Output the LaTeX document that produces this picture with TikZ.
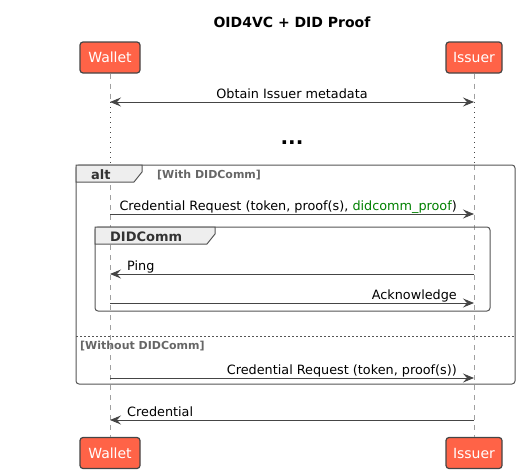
\documentclass[tikz,border=0pt]{standalone}
\usepackage{fontspec}
\setmainfont{DejaVu Sans}
\usetikzlibrary{arrows.meta}
\definecolor{boxred}{HTML}{FF6347}
\definecolor{linegray}{HTML}{454545}
\definecolor{lifegray}{HTML}{A0A0A0}
\definecolor{framegray}{HTML}{555555}
\definecolor{tabgray}{HTML}{EEEEEE}
\definecolor{guardgray}{HTML}{666666}
\definecolor{labelgray}{HTML}{333333}
\definecolor{proofgreen}{HTML}{008000}

\begin{document}
\begin{tikzpicture}[x=1pt, y=-1pt,
    >={Stealth[length=11pt, width=9pt, inset=4pt]},
    actor/.style={draw=linegray, line width=1.2pt, fill=boxred, rounded corners=3pt,
        minimum height=31pt, inner sep=0pt, text=white, font=\fontsize{14}{16}\selectfont},
    lifeline/.style={draw=lifegray, line width=0.8pt, dash pattern=on 5pt off 5pt},
    delayline/.style={draw=linegray, line width=0.9pt, dash pattern=on 0.9pt off 4.1pt},
    msg/.style={draw=linegray, line width=0.9pt, ->},
    msgtext/.style={font=\fontsize{12.8}{15}\selectfont, inner sep=0pt},
    frame/.style={draw=framegray, line width=1pt, rounded corners=3pt},
    tab/.style={draw=framegray, line width=1pt, fill=tabgray},
    tablabel/.style={font=\bfseries\fontsize{13}{15}\selectfont, text=labelgray, inner sep=0pt},
    guard/.style={font=\bfseries\fontsize{11}{13}\selectfont, text=guardgray, inner sep=0pt}]
                \useasboundingbox (0,0) rectangle (521,474);

                %Draw the title
                \node[font=\bfseries\fontsize{14}{16}\selectfont, anchor=base] (title) 
                at (292,27.5) {OID4VC + DID Proof};

                %Draw the participants, top and bottom
                \node[actor, minimum width=60pt] (walletTop) at (110,57.5) {Wallet};
                \node[actor, minimum width=56pt] (issuerTop) at (474,57.5) {Issuer};
                \node[actor, minimum width=60pt] (walletBot) at (110,453) {Wallet};
                \node[actor, minimum width=56pt] (issuerBot) at (474,453) {Issuer};

                %Message end points on the lifelines
                \foreach \m/\y in {meta/102, delay/165, req/214, ping/274, ack/303, reqb/378, cred/420} {
                    \coordinate (w\m) at (110,\y);
                    \coordinate (i\m) at (474,\y);
                }

                %Draw the lifelines, dotted during the delay
                \draw[lifeline] (walletTop.south) -- (wmeta);
                \draw[delayline] (wmeta) -- (wdelay);
                \draw[lifeline] (wdelay) -- (walletBot.north);
                \draw[lifeline] (issuerTop.south) -- (imeta);
                \draw[delayline] (imeta) -- (idelay);
                \draw[lifeline] (idelay) -- (issuerBot.north);

                %Draw the metadata exchange and the delay
                \draw[msg, <->] (wmeta) -- (imeta);
                \node[msgtext, anchor=base] (metaLabel) at (292,98) {Obtain Issuer metadata};
                \node[font=\bfseries\fontsize{20}{22}\selectfont, inner sep=0pt, anchor=base] (delayDots) 
                at (292,144) {...};

                %Draw the alt frame
                \draw[frame] (76,165) rectangle (515,384);
                \draw[tab] (76,165) -- (142,165) -- (142,172) -- (134,182) -- (76,182) -- cycle;
                \node[tablabel, anchor=base west] (altLabel) at (91,179) {alt};
                \node[guard, anchor=base west] (withGuard) at (157,178.5) {[With DIDComm]};

                %Draw the DIDComm group
                \draw[frame] (95,227) rectangle (490,311);
                \draw[tab] (95,227) -- (215,227) -- (215,234) -- (207,244) -- (95,244) -- cycle;
                \node[tablabel, anchor=base west] (groupLabel) at (110,241) {DIDComm};

                %Draw the else separator
                \draw[framegray, line width=0.8pt, dash pattern=on 2pt off 2pt] (76,336) -- (515,336);
                \node[guard, anchor=base west] (withoutGuard) at (80,349.5) {[Without DIDComm]};

                %Draw the messages
                \draw[msg] (wreq) -- (ireq);
                \node[msgtext, anchor=base east] (reqLabel) at (457,210) 
                {Credential Request (token, proof(s), \textcolor{proofgreen}{didcomm\_proof})};
                \draw[msg] (iping) -- (wping);
                \node[msgtext, anchor=base west] (pingLabel) at (127,270) {Ping};
                \draw[msg] (wack) -- (iack);
                \node[msgtext, anchor=base east] (ackLabel) at (457,299) {Acknowledge};
                \draw[msg] (wreqb) -- (ireqb);
                \node[msgtext, anchor=base east] (reqbLabel) at (457,374) {Credential Request (token, proof(s))};
                \draw[msg] (icred) -- (wcred);
                \node[msgtext, anchor=base west] (credLabel) at (127,416) {Credential};

            \end{tikzpicture}
\end{document}
